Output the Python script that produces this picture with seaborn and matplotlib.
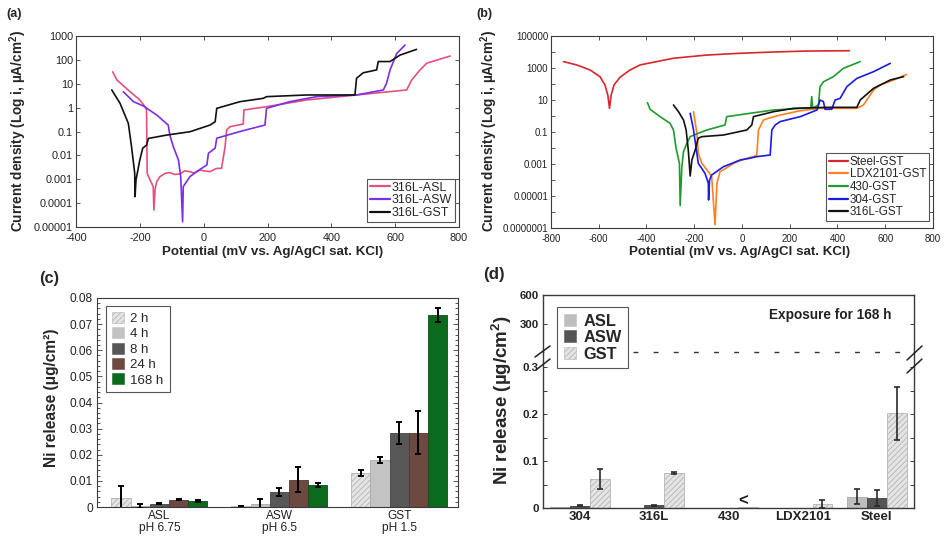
import matplotlib
matplotlib.use("Agg")
import numpy as np
import pandas as pd
import matplotlib.pyplot as plt
import seaborn as sns
from matplotlib.patches import Patch
from matplotlib.lines import Line2D
from matplotlib.ticker import FixedLocator, FixedFormatter, NullLocator, MultipleLocator

# ================= DATA =================
# ---- panel (a): 316L in three media (potential mV, log10 current density) ----
a_asl_mv = [-285, -272, -231, -200, -184, -179, -177, -168, -158, -156, -152, -147, -137, -120, -106, -90, -74,
            -60, -43, -30, -12, 5, 20, 40, 56, 62, 67, 72, 82, 100, 124, 126, 197, 323, 479, 636, 652, 678, 699, 772]
a_asl_log = [1.5, 1.16, 0.67, 0.32, 0.04, -0.1, -2.75, -3.03, -3.31, -4.29, -3.4, -3.1, -2.89, -2.75, -2.72, -2.8,
             -2.78, -2.65, -2.68, -2.75, -2.61, -2.66, -2.68, -2.55, -2.54, -2.06, -1.64, -0.94, -0.8, -0.75, -0.69,
             -0.1, 0.04, 0.32, 0.53, 0.74, 1.16, 1.58, 1.86, 2.16]
a_asw_mv = [-252, -220, -189, -147, -111, -106, -95, -79, -72, -66, -64, -43, -22, 10, 15, 36, 41, 114, 192, 197,
            270, 354, 479, 563, 573, 584, 605, 631]
a_asw_log = [0.67, 0.25, 0.07, -0.31, -0.73, -1.15, -1.64, -2.19, -2.89, -4.78, -3.31, -2.89, -2.68, -2.40, -1.91,
             -1.70, -1.28, -1.0, -0.73, -0.03, 0.25, 0.46, 0.53, 0.74, 1.02, 1.58, 2.27, 2.62]
a_gst_mv = [-288, -262, -236, -226, -216, -215, -212, -200, -191, -179, -173, -116, -43, 20, 36, 41, 114, 187, 197,
            323, 474, 479, 500, 542, 547, 584, 615, 667]
a_gst_log = [0.74, 0.18, -0.66, -1.64, -2.75, -3.73, -3.03, -2.19, -1.70, -1.57, -1.29, -1.15, -1.01, -0.73, -0.59,
             -0.03, 0.25, 0.39, 0.46, 0.53, 0.53, 1.23, 1.46, 1.58, 1.93, 1.93, 2.2, 2.44]
a_names = ["316L-ASL", "316L-ASW", "316L-GST"]
a_colors = ["#e5507e", "#7a2ee6", "#111111"]
a_yticks_lbl = ["0.00001", "0.0001", "0.001", "0.01", "0.1", "1", "10", "100", "1000"]
a_yticks_exp = [-5, -4, -3, -2, -1, 0, 1, 2, 3]
a_xticks = [-400, -200, 0, 200, 400, 600, 800]

# ---- panel (b): five alloys in GST ----
b_steel_mv = [-748, -692, -636, -595, -574, -562, -555, -548, -536, -511, -469, -427, -287, -147, -8, 132, 272, 450]
b_steel_log = [3.40, 3.19, 2.875, 2.46, 1.94, 1.31, 0.48, 1.31, 1.94, 2.42, 2.875, 3.19, 3.61, 3.81, 3.92, 4.0,
               4.06, 4.08]
b_ldx_mv = [-203, -189, -183, -168, -141, -127, -113, -105, -92, -60, -36, 0, 30, 48, 62, 69, 90, 111, 160, 244,
            327, 481, 509, 551, 579, 635, 690]
b_ldx_log = [0.27, -1.08, -2.33, -2.96, -3.48, -3.79, -6.8, -4.2, -3.48, -3.2, -2.96, -2.75, -2.6, -2.54, -2.44,
             -0.875, -0.25, -0.14, 0.06, 0.33, 0.48, 0.48, 0.69, 1.625, 1.94, 2.25, 2.6]
b_430_mv = [-396, -385, -343, -301, -287, -276, -262, -259, -252, -245, -231, -217, -183, -147, -71, -64, 34, 132,
            272, 288, 292, 296, 320, 327, 341, 383, 425, 495]
b_430_log = [0.83, 0.42, -0.04, -0.46, -0.875, -2.02, -2.96, -5.6, -3.2, -2.23, -1.71, -1.29, -1.08, -0.875, -0.56,
             -0.04, 0.17, 0.375, 0.5, 0.5, 1.21, 0.5, 0.69, 1.83, 2.14, 2.46, 2.98, 3.4]
b_304_mv = [-217, -203, -189, -183, -155, -141, -140, -136, -127, -78, -40, -8, 30, 62, 118, 125, 139, 160, 244,
            314, 327, 341, 348, 376, 390, 411, 439, 481, 551, 621]
b_304_log = [0.17, -0.875, -2.33, -2.96, -3.58, -4.2, -5.25, -4.0, -3.69, -3.17, -2.95, -2.75, -2.65, -2.54, -2.44,
             -0.875, -0.56, -0.35, -0.04, 0.375, 1.0, 0.9, 0.42, 0.42, 1.0, 1.1, 1.83, 2.35, 2.77, 3.29]
b_316_mv = [-287, -266, -245, -234, -225, -217, -210, -196, -189, -183, -168, -78, 20, 41, 48, 132, 216, 356, 481,
            495, 551, 579, 621, 677]
b_316_log = [0.69, 0.27, -0.25, -0.875, -2.125, -3.75, -2.75, -2.125, -1.71, -1.39, -1.29, -1.19, -0.875, -0.56,
             -0.04, 0.27, 0.48, 0.54, 0.54, 1.0, 1.73, 1.94, 2.25, 2.46]
b_names = ["Steel-GST", "LDX2101-GST", "430-GST", "304-GST", "316L-GST"]
b_colors = ["#d8262c", "#ff7f24", "#22992e", "#1a1ae6", "#111111"]
b_yticks_lbl = ["0.0000001", "0.00001", "0.001", "0.1", "10", "1000", "100000"]
b_yticks_exp = [-7, -5, -3, -1, 1, 3, 5]
b_yminor_exp = [-6, -4, -2, 0, 2, 4]
b_xticks = [-800, -600, -400, -200, 0, 200, 400, 600, 800]

# ---- panel (c): 316L Ni release vs time ----
c_groups = ["ASL\npH 6.75", "ASW\npH 6.5", "GST\npH 1.5"]
c_times = ["2 h", "4 h", "8 h", "24 h", "168 h"]
c_val_2h = [0.0034, 0.0002, 0.0130]
c_val_4h = [0.0005, 0.0011, 0.0179]
c_val_8h = [0.0013, 0.0056, 0.0282]
c_val_24h = [0.0028, 0.0105, 0.0285]
c_val_168h = [0.0022, 0.0083, 0.0734]
c_err_2h = [0.0045, 0.0, 0.0013]
c_err_4h = [0.0008, 0.0019, 0.0012]
c_err_8h = [0.0003, 0.0015, 0.0042]
c_err_24h = [0.0002, 0.0048, 0.0083]
c_err_168h = [0.0003, 0.0008, 0.0027]
c_colors = ["#e4e4e4", "#c3c3c3", "#575757", "#6c4a41", "#0b6a1c"]
c_edges = ["#b5b5b5", "#aaaaaa", "#444444", "#55382f", "#085014"]
c_yticks = [0, 0.01, 0.02, 0.03, 0.04, 0.05, 0.06, 0.07, 0.08]
c_ytick_lbl = ["0", "0.01", "0.02", "0.03", "0.04", "0.05", "0.06", "0.07", "0.08"]

# ---- panel (d): Ni release after 168 h ----
d_materials = ["304", "316L", "430", "LDX2101", "Steel"]
d_media = ["ASL", "ASW", "GST"]
d_val_asl = [0.002, 0.001, 0.0005, 0.0003, 0.024]
d_val_asw = [0.005, 0.006, 0.0008, 0.0003, 0.022]
d_val_gst = [0.061, 0.0736, 0.0012, 0.0086, 0.2014]
d_err_asl = [0.0, 0.0, 0.0, 0.0, 0.016]
d_err_asw = [0.0008, 0.0008, 0.0, 0.0, 0.017]
d_err_gst = [0.021, 0.002, 0.0, 0.009, 0.057]
d_colors = ["#bebebe", "#555555", "#e4e4e4"]
d_edges = ["#a8a8a8", "#404040", "#b5b5b5"]
d_low_ticks = [0, 0.1, 0.2, 0.3]
d_low_lbl = ["0", "0.1", "0.2", "0.3"]
d_high_ticks = [300, 600]
d_high_lbl = ["300", "600"]

# ================= STYLE =================
sns.set_theme(style="ticks")
plt.rcParams['font.family'] = ['Liberation Sans', 'DejaVu Sans']
plt.rcParams['mathtext.fontset'] = 'custom'
plt.rcParams['mathtext.rm'] = 'Liberation Sans'
plt.rcParams['mathtext.bf'] = 'Liberation Sans:bold'
plt.rcParams['axes.unicode_minus'] = False
plt.rcParams['hatch.linewidth'] = 0.6

W, H = 945, 538
fig = plt.figure(figsize=(W / 100, H / 100), dpi=100)


def rect(l, t, r, b):
    return [l / W, 1 - b / H, (r - l) / W, (b - t) / H]


def fx(x):
    return x / W


def fy(y):
    return 1 - y / H


SPINE = "#3a3a3a"


def style_spines(ax, lw=0.8):
    for s in ax.spines.values():
        s.set_linewidth(lw)
        s.set_color(SPINE)


# ================= PANEL (a) =================
ax_a = fig.add_axes(rect(76, 36, 459, 227))
for mv, lg, nm, col in zip([a_asl_mv, a_asw_mv, a_gst_mv], [a_asl_log, a_asw_log, a_gst_log], a_names, a_colors):
    sns.lineplot(x=mv, y=10.0 ** np.array(lg), ax=ax_a, color=col, lw=1.2, sort=False, estimator=None, label=nm)
ax_a.set_yscale('log')
ax_a.set_xlim(-400, 800)
ax_a.set_ylim(1e-5, 1e3)
ax_a.set_xticks(a_xticks)
ax_a.set_xticklabels([str(t) for t in a_xticks])
ax_a.yaxis.set_major_locator(FixedLocator([10.0 ** e for e in a_yticks_exp]))
ax_a.yaxis.set_major_formatter(FixedFormatter(a_yticks_lbl))
ax_a.yaxis.set_minor_locator(NullLocator())
ax_a.tick_params(which='both', direction='in', top=True, right=True, labelsize=7.8, length=3, width=0.6,
                 color=SPINE, labelcolor='#222', pad=2)
ax_a.tick_params(axis='x', pad=4)
style_spines(ax_a)
ax_a.set_xlabel('')
ax_a.set_ylabel('')
leg = ax_a.legend(loc='lower right', bbox_to_anchor=(0.9896, 0.026), borderaxespad=0, fontsize=9,
                  frameon=True, fancybox=False, framealpha=1, edgecolor='#555', handlelength=1.6,
                  handletextpad=0.15, labelspacing=0.05, borderpad=0.25)
leg.get_frame().set_linewidth(0.8)
for l in leg.get_lines():
    l.set_linewidth(1.6)

# ================= PANEL (b) =================
ax_b = fig.add_axes(rect(551, 36, 933, 228))
for mv, lg, nm, col in zip([b_steel_mv, b_ldx_mv, b_430_mv, b_304_mv, b_316_mv],
                           [b_steel_log, b_ldx_log, b_430_log, b_304_log, b_316_log], b_names, b_colors):
    sns.lineplot(x=mv, y=10.0 ** np.array(lg), ax=ax_b, color=col, lw=1.2, sort=False, estimator=None, label=nm)
ax_b.set_yscale('log')
ax_b.set_xlim(-800, 800)
ax_b.set_ylim(1e-7, 1e5)
ax_b.set_xticks(b_xticks)
ax_b.set_xticklabels([str(t) for t in b_xticks])
ax_b.yaxis.set_major_locator(FixedLocator([10.0 ** e for e in b_yticks_exp]))
ax_b.yaxis.set_major_formatter(FixedFormatter(b_yticks_lbl))
ax_b.yaxis.set_minor_locator(FixedLocator([10.0 ** e for e in b_yminor_exp]))
ax_b.yaxis.set_minor_formatter(FixedFormatter([""] * len(b_yminor_exp)))
ax_b.tick_params(which='both', direction='in', top=True, right=True, labelsize=7.0, length=3, width=0.6,
                 color=SPINE, labelcolor='#222', pad=2)
ax_b.tick_params(axis='x', pad=4.5)
style_spines(ax_b)
ax_b.set_xlabel('')
ax_b.set_ylabel('')
leg = ax_b.legend(loc='lower right', bbox_to_anchor=(0.9895, 0.036), borderaxespad=0, fontsize=8.4,
                  frameon=True, fancybox=False, framealpha=1, edgecolor='#555', handlelength=1.6,
                  handletextpad=0.15, labelspacing=0.05, borderpad=0.25)
leg.get_frame().set_linewidth(0.8)
for l in leg.get_lines():
    l.set_linewidth(1.6)

# axis labels (a), (b)
pot_lbl = "Potential (mV vs. Ag/AgCl sat. KCl)"
cd_lbl = r"Current density (Log i, µA/cm$^{\mathbf{2}}$)"
fig.text(fx(273), fy(252), pot_lbl, ha='center', va='center', fontsize=9.6, fontweight='bold')
fig.text(fx(740), fy(252), pot_lbl, ha='center', va='center', fontsize=9.6, fontweight='bold')
fig.text(fx(18), fy(131), cd_lbl, ha='center', va='center', rotation=90, fontsize=9.8, fontweight='bold')
fig.text(fx(489), fy(131), cd_lbl, ha='center', va='center', rotation=90, fontsize=9.8, fontweight='bold')
fig.text(fx(14), fy(14), "(a)", ha='center', va='center', fontsize=9, fontweight='bold')
fig.text(fx(484), fy(14), "(b)", ha='center', va='center', fontsize=9, fontweight='bold')

# ================= PANEL (c) =================
ax_c = fig.add_axes(rect(97, 298, 458, 507))
c_vals = [c_val_2h, c_val_4h, c_val_8h, c_val_24h, c_val_168h]
c_errs = [c_err_2h, c_err_4h, c_err_8h, c_err_24h, c_err_168h]
df_c = pd.DataFrame({
    'group': c_groups * len(c_times),
    'time': np.repeat(c_times, len(c_groups)),
    'value': np.concatenate(c_vals),
})
sns.barplot(data=df_c, x='group', y='value', hue='time', order=c_groups, hue_order=c_times,
            palette=dict(zip(c_times, c_colors)), width=0.8, errorbar=None, legend=False, saturation=1,
            linewidth=0.6, ax=ax_c)
c_bar_conts = list(ax_c.containers)
for i, cont in enumerate(c_bar_conts):
    xs = []
    for p in cont:
        p.set_edgecolor(c_edges[i])
        if i == 0:
            p.set_hatch('//////')
        xs.append(p.get_x() + p.get_width() / 2)
    ax_c.errorbar(xs, c_vals[i], yerr=c_errs[i], fmt='none', ecolor='black', elinewidth=1.4, capsize=2.2,
                  capthick=1.4, zorder=5)
ax_c.set_xlim(-0.52, 2.49)
ax_c.set_ylim(0, 0.08)
ax_c.yaxis.set_major_locator(FixedLocator(c_yticks))
ax_c.yaxis.set_major_formatter(FixedFormatter(c_ytick_lbl))
ax_c.yaxis.set_minor_locator(MultipleLocator(0.002))
ax_c.tick_params(axis='y', which='both', direction='in', left=True, right=True, labelsize=8.6, color=SPINE,
                 labelcolor='#222', width=0.6, pad=3)
ax_c.tick_params(axis='y', which='major', length=3.5)
ax_c.tick_params(axis='y', which='minor', length=2)
ax_c.tick_params(axis='x', which='both', length=0, labelsize=8.6, labelcolor='#222', pad=2)
for t in ax_c.get_xticklabels():
    t.set_linespacing(1.0)
style_spines(ax_c)
ax_c.set_xlabel('')
ax_c.set_ylabel('')
c_handles = [Patch(facecolor=c_colors[i], edgecolor=(c_edges[0] if i == 0 else c_colors[i]),
                   hatch=('//////' if i == 0 else None), linewidth=0.4, label=c_times[i]) for i in range(5)]
leg = ax_c.legend(handles=c_handles, loc='upper left', bbox_to_anchor=(0.025, 0.962), borderaxespad=0,
                  fontsize=9.5, frameon=True, fancybox=False, framealpha=1, edgecolor='#555', handlelength=0.9,
                  handleheight=0.9, handletextpad=0.5, labelspacing=0.18, borderpad=0.45)
leg.get_frame().set_linewidth(0.8)
fig.text(fx(52), fy(398), "Ni release (μg/cm²)", ha='center', va='center', rotation=90, fontsize=11.2,
         fontweight='bold')
fig.text(fx(49), fy(278), "(c)", ha='center', va='center', fontsize=11.8, fontweight='bold')

# ================= PANEL (d) =================
ax_dl = fig.add_axes(rect(543, 352, 914, 508))
ax_dh = fig.add_axes(rect(543, 295, 914, 352))
ax_dh.set_facecolor('none')
d_vals = [d_val_asl, d_val_asw, d_val_gst]
d_errs = [d_err_asl, d_err_asw, d_err_gst]
df_d = pd.DataFrame({
    'material': d_materials * len(d_media),
    'medium': np.repeat(d_media, len(d_materials)),
    'value': np.concatenate(d_vals),
})
sns.barplot(data=df_d, x='material', y='value', hue='medium', order=d_materials, hue_order=d_media,
            palette=dict(zip(d_media, d_colors)), width=0.8, errorbar=None, legend=False, saturation=1,
            linewidth=0.6, ax=ax_dl)
d_bar_conts = list(ax_dl.containers)
for i, cont in enumerate(d_bar_conts):
    xs = []
    for p in cont:
        p.set_edgecolor(d_edges[i])
        if i == 2:
            p.set_hatch('//////')
        xs.append(p.get_x() + p.get_width() / 2)
    xs_e = [x for x, e in zip(xs, d_errs[i]) if e > 0]
    v_e = [v for v, e in zip(d_vals[i], d_errs[i]) if e > 0]
    e_e = [e for e in d_errs[i] if e > 0]
    ax_dl.errorbar(xs_e, v_e, yerr=e_e, fmt='none', ecolor='#2a2a2a', elinewidth=1.2, capsize=2.0,
                   capthick=1.2, zorder=5)
ax_dl.text(2.2, 0.0, "<", ha='center', va='bottom', fontsize=12, fontweight='bold', color='#222')
ax_dl.set_xlim(-0.5, 4.5)
ax_dl.set_ylim(0, 0.332)
ax_dl.yaxis.set_major_locator(FixedLocator(d_low_ticks))
ax_dl.yaxis.set_major_formatter(FixedFormatter(d_low_lbl))
ax_dl.yaxis.set_minor_locator(FixedLocator([0.05, 0.15, 0.25]))
ax_dl.tick_params(axis='y', which='both', direction='in', left=True, right=True, labelsize=8.2, color=SPINE,
                  width=0.7, length=3, pad=3, labelcolor='#222')
for t in ax_dl.get_yticklabels():
    t.set_fontweight('bold')
ax_dl.tick_params(axis='x', length=0, labelsize=9.5, pad=2, labelcolor='#222')
for t in ax_dl.get_xticklabels():
    t.set_fontweight('bold')
style_spines(ax_dl, lw=1.0)
ax_dl.spines['top'].set_visible(False)
ax_dl.set_xlabel('')
ax_dl.set_ylabel('')

ax_dh.set_xlim(-0.5, 4.5)
ax_dh.set_ylim(0, 600)
ax_dh.set_xticks([])
ax_dh.yaxis.set_major_locator(FixedLocator(d_high_ticks))
ax_dh.yaxis.set_major_formatter(FixedFormatter(d_high_lbl))
ax_dh.tick_params(axis='y', which='both', direction='in', left=True, right=True, labelsize=8.2, color=SPINE,
                  width=0.7, length=3, pad=3, labelcolor='#222')
for t in ax_dh.get_yticklabels():
    t.set_fontweight('bold')
style_spines(ax_dh, lw=1.0)
ax_dh.spines['bottom'].set_visible(False)

# break line and marks
fig.add_artist(Line2D([fx(633), fx(912)], [fy(352), fy(352)], color='#333', lw=1.0,
                      linestyle=(0, (3.5, 11)), transform=fig.transFigure))
for (x0, y0, x1, y1) in [(535, 357, 550, 346), (536, 370, 550, 359), (907, 360, 922, 346), (907, 373, 922, 359)]:
    fig.add_artist(Line2D([fx(x0), fx(x1)], [fy(y0), fy(y1)], color='#222', lw=1.1, transform=fig.transFigure))

d_handles = [Patch(facecolor=d_colors[i], edgecolor=(d_edges[2] if i == 2 else d_colors[i]),
                   hatch=('//////' if i == 2 else None), linewidth=0.4, label=d_media[i]) for i in range(3)]
leg = fig.legend(handles=d_handles, loc='upper left', bbox_to_anchor=(fx(557), fy(307)), borderaxespad=0,
                 frameon=True, fancybox=False, framealpha=1, edgecolor='#555', handlelength=0.75,
                 handleheight=0.75, handletextpad=0.45, labelspacing=0.1, borderpad=0.4,
                 prop={'weight': 'bold', 'size': 11.8})
leg.get_frame().set_linewidth(0.8)

fig.text(fx(830), fy(315), "Exposure for 168 h", ha='center', va='center', fontsize=9.8, fontweight='bold',
         color='#222')
fig.text(fx(502), fy(400), r"Ni release (µg/cm$^{\mathbf{2}}$)", ha='center', va='center', rotation=90,
         fontsize=13.5, fontweight='bold')
fig.text(fx(494), fy(275), "(d)", ha='center', va='center', fontsize=12.2, fontweight='bold')

fig.savefig("out.png", dpi=100)
